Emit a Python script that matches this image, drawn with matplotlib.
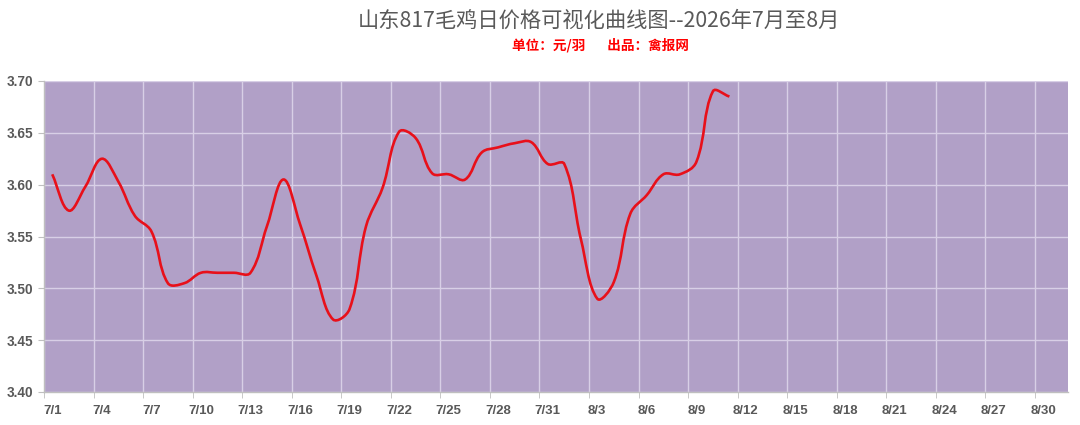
import numpy as np
import matplotlib
matplotlib.use('Agg')
import matplotlib.pyplot as plt
from matplotlib.path import Path
from matplotlib.patches import PathPatch

plt.rcParams['font.family'] = ['Noto Sans CJK SC', 'DejaVu Sans']

# 日期轴：7/1 ~ 8/31
months = [7] * 31 + [8] * 31
days = list(range(1, 32)) + list(range(1, 32))
day_labels = [f'{m}/{d}' for m, d in zip(months, days)]

# 价格数据（7/1 ~ 8/11）
prices = [3.61, 3.575, 3.598, 3.625, 3.603, 3.57, 3.555, 3.505, 3.505, 3.515,
          3.515, 3.515, 3.515, 3.56, 3.605, 3.562, 3.512, 3.47, 3.48, 3.56,
          3.597, 3.651, 3.645, 3.611, 3.61, 3.605, 3.631, 3.636, 3.64, 3.641,
          3.62, 3.62, 3.548, 3.49, 3.506, 3.572, 3.59, 3.61, 3.61, 3.622,
          3.69, 3.685]

y_ticks = [3.40, 3.45, 3.50, 3.55, 3.60, 3.65, 3.70]

bg_color = '#B1A0C7'
grid_color = '#D8CFE6'
text_gray = '#595959'

# 画布中每天、每元对应的像素，用于平滑曲线的长度计算
PX_DAY = 1024 / 62
PX_UNIT = 311 / 0.30


def smooth_path(xs, ys):
    """Excel风格的平滑曲线（贝塞尔，按线段长度缩放控制点）"""
    pts = np.column_stack([np.asarray(xs) * PX_DAY, np.asarray(ys) * PX_UNIT]).astype(float)
    n = len(pts)
    scale = np.array([PX_DAY, PX_UNIT])
    verts = [pts[0] / scale]
    codes = [Path.MOVETO]
    k = 0.38
    for i in range(n - 1):
        p0 = pts[i - 1] if i > 0 else pts[i]
        p1 = pts[i]
        p2 = pts[i + 1]
        p3 = pts[i + 2] if i + 2 < n else pts[i + 1]
        d01 = np.hypot(*(p1 - p0))
        d12 = np.hypot(*(p2 - p1))
        d23 = np.hypot(*(p3 - p2))
        f1 = d12 / (d01 + d12) if d01 + d12 > 0 else 0
        f2 = d12 / (d12 + d23) if d12 + d23 > 0 else 0
        c1 = p1 + (p2 - p0) * f1 * k
        c2 = p2 - (p3 - p1) * f2 * k
        verts += [c1 / scale, c2 / scale, p2 / scale]
        codes += [Path.CURVE4] * 3
    return Path(verts, codes)


fig = plt.figure(figsize=(10.8, 4.25), dpi=100)
ax = fig.add_axes([44 / 1080, 1 - 392 / 425, 1024 / 1080, 311 / 425])
ax.set_facecolor(bg_color)

x = np.arange(len(prices))
patch = PathPatch(smooth_path(x, prices), facecolor='none', edgecolor='#E8101A',
                  linewidth=1.9, transform=ax.transData, zorder=3)
ax.add_patch(patch)

ax.set_xlim(-0.5, len(day_labels) - 0.5)
ax.set_ylim(3.40, 3.70)

# 刻度
major_x = list(range(0, len(day_labels), 3))
ax.set_xticks(major_x)
ax.set_xticklabels([day_labels[i] for i in major_x])
ax.set_xticks([i - 0.5 for i in major_x], minor=True)
ax.set_yticks(y_ticks)
ax.set_yticklabels([f'{v:.2f}' for v in y_ticks])

ax.grid(which='minor', axis='x', color=grid_color, linewidth=1.0)
ax.grid(which='major', axis='y', color=grid_color, linewidth=1.0)
ax.set_axisbelow(True)

ax.tick_params(axis='x', which='major', length=0, pad=9, labelsize=9.5,
               labelcolor=text_gray)
ax.tick_params(axis='x', which='minor', length=4, color='#BFBFBF')
ax.tick_params(axis='y', length=4, color='#BFBFBF', pad=4, labelsize=9.8,
               labelcolor=text_gray)
for lbl in ax.get_xticklabels() + ax.get_yticklabels():
    lbl.set_fontfamily(['Liberation Sans', 'DejaVu Sans'])
    lbl.set_fontweight('bold')

for side in ['top', 'right']:
    ax.spines[side].set_visible(False)
for side in ['left', 'bottom']:
    ax.spines[side].set_color('#BFBFBF')
    ax.spines[side].set_linewidth(1.0)

fig.text(599 / 1080, 1 - 21 / 425, '山东817毛鸡日价格可视化曲线图--2026年7月至8月',
         ha='center', va='center', fontsize=15.3, color=text_gray)
fig.text(600 / 1080, 1 - 45 / 425, '单位：元/羽       出品：禽报网',
         ha='center', va='center', fontsize=9.8, color='#FF0000', fontweight='bold')

fig.savefig('out.png', dpi=100)
